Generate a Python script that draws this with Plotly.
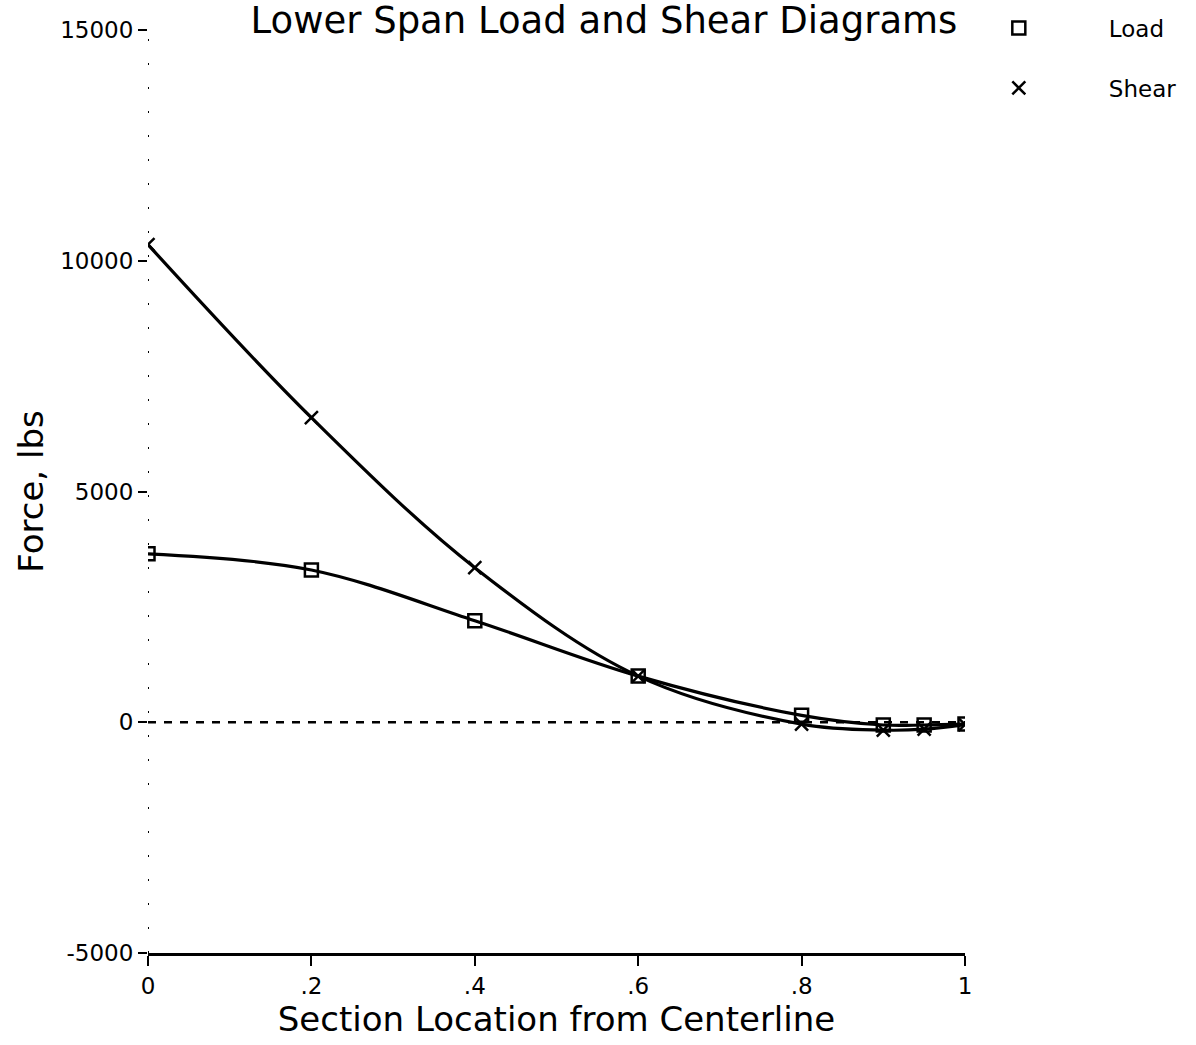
import plotly.graph_objects as go

# Data
section = [0, 0.2, 0.4, 0.6, 0.8, 0.9, 0.95, 1.0]
load = [3650, 3300, 2200, 1000, 150, -60, -60, -40]
shear = [10350, 6600, 3350, 1000, -40, -170, -150, -50]

x_tickvals = [0, 0.2, 0.4, 0.6, 0.8, 1.0]
x_ticktext = ["0", ".2", ".4", ".6", ".8", "1"]
y_tickvals = [-5000, 0, 5000, 10000, 15000]
y_ticktext = ["-5000", "0", "5000", "10000", "15000"]

FONT = "DejaVu Sans"

fig = go.Figure()
# curves (no legend entry)
for vals in (load, shear):
    fig.add_trace(go.Scatter(
        x=section, y=vals, mode="lines", showlegend=False, hoverinfo="skip",
        line=dict(color="black", width=3.2, shape="spline", smoothing=1.0),
    ))
# markers (legend shows symbol only)
fig.add_trace(go.Scatter(
    x=section, y=load, name="Load", mode="markers", legendgroup="a",
    marker=dict(symbol="square-open", size=13, color="black", line=dict(width=2.5, color="black")),
))
fig.add_trace(go.Scatter(
    x=section, y=shear, name="Shear", mode="markers", legendgroup="b",
    marker=dict(symbol="x-thin-open", size=13, color="black", line=dict(width=2.5, color="black")),
))

# zero reference line (dashed) and dotted vertical axis line
fig.add_hline(y=0, line=dict(color="black", width=2.5, dash="8px,8px"))
fig.add_vline(x=0, line=dict(color="black", width=2, dash="2px,22px"))

fig.update_layout(
    width=1196, height=1045,
    paper_bgcolor="white", plot_bgcolor="white",
    margin=dict(l=148, r=231, t=30, b=92, autoexpand=False),
    font=dict(family=FONT, color="black"),
    title=dict(text="Lower Span Load and Shear Diagrams", font=dict(size=37, family=FONT, color="black"),
               xref="container", x=0.505, xanchor="center",
               yref="container", y=0.993, yanchor="top", pad=dict(t=0, b=0)),
    showlegend=True,
    legend=dict(xref="container", x=0.7766, xanchor="left",
                yref="container", y=0.9937, yanchor="top",
                font=dict(size=23, family=FONT, color="black"),
                itemwidth=170, tracegroupgap=27, bgcolor="rgba(0,0,0,0)"),
    xaxis=dict(range=[0, 1], tickvals=x_tickvals, ticktext=x_ticktext,
               showgrid=False, zeroline=False, showline=True, linecolor="black", linewidth=3,
               ticks="outside", ticklen=10, tickwidth=2, tickcolor="black",
               tickfont=dict(size=23, family=FONT),
               title=dict(text="Section Location from Centerline", font=dict(size=34, family=FONT), standoff=0)),
    yaxis=dict(range=[-5000, 15000], tickvals=y_tickvals, ticktext=y_ticktext,
               showgrid=False, zeroline=False, showline=False,
               ticks="outside", ticklen=9, tickwidth=2, tickcolor="black",
               tickfont=dict(size=23, family=FONT),
               title=dict(text="Force, lbs", font=dict(size=34, family=FONT), standoff=6)),
)

fig.write_html("out.html")
